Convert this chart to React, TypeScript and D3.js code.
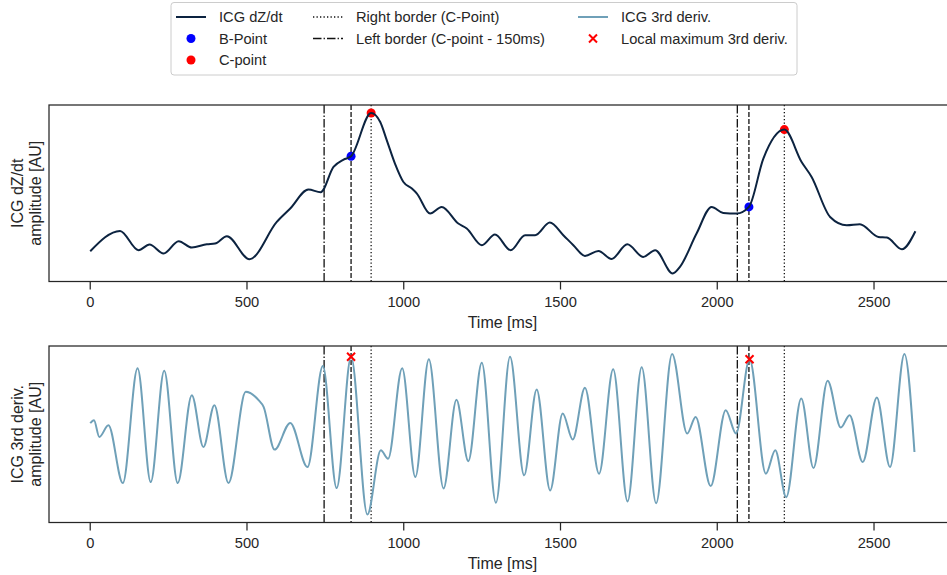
import React from "react";
import * as d3 from "d3";

// ---------- data ----------
const icgTimes = [0, 95, 154, 189, 234, 282, 324, 372, 398, 436, 508, 595, 638, 696, 735, 776, 808, 832, 896, 925, 946, 972, 999, 1026, 1042, 1084, 1121, 1174, 1201, 1249, 1291, 1341, 1387, 1419, 1466, 1509, 1541, 1578, 1621, 1663, 1713, 1764, 1802, 1858, 1881, 1934, 1982, 2019, 2062, 2101, 2147, 2214, 2269, 2301, 2360, 2413, 2455, 2514, 2541, 2589, 2632];
const icgValues = [0.223, 0.426, 0.233, 0.29, 0.2, 0.323, 0.26, 0.293, 0.3, 0.373, 0.143, 0.516, 0.65, 0.84, 0.813, 1.066, 1.14, 1.173, 1.606, 1.516, 1.333, 1.1, 0.916, 0.85, 0.8, 0.6, 0.666, 0.5, 0.45, 0.283, 0.39, 0.233, 0.383, 0.383, 0.51, 0.383, 0.283, 0.176, 0.226, 0.146, 0.293, 0.166, 0.233, 0.0, 0.066, 0.4, 0.666, 0.606, 0.6, 0.666, 1.15, 1.44, 1.116, 0.966, 0.566, 0.483, 0.493, 0.366, 0.36, 0.243, 0.423];

const derivTimes = [0, 12, 29, 58, 104, 151, 193, 236, 279, 324, 361, 396, 441, 496, 537, 553, 588, 638, 693, 742, 786, 832, 884, 927, 950, 995, 1037, 1080, 1127, 1168, 1206, 1249, 1294, 1339, 1384, 1424, 1467, 1507, 1539, 1578, 1623, 1668, 1714, 1759, 1805, 1856, 1904, 1931, 1979, 2027, 2060, 2103, 2155, 2185, 2220, 2268, 2307, 2352, 2394, 2422, 2464, 2509, 2551, 2597, 2629];
const derivValues = [0.275, 0.35, -0.068, 0.225, -1.218, 1.643, -1.193, 1.583, -1.218, 0.975, -0.318, 0.725, -1.218, 1.058, 0.85, 0.683, -0.383, 0.283, -0.818, 1.7, -1.343, 1.933, -2.0, -0.4, -0.613, 1.643, -1.068, 1.868, -1.35, 0.858, -0.67, 1.783, -1.708, 1.933, -1.025, 1.118, -1.4, 0.518, -0.133, 1.158, -0.983, 1.618, -1.675, 1.668, -1.718, 2.0, 0.018, 0.433, -1.293, 0.6, 0.018, 1.868, -0.983, -0.4, -1.568, 0.893, -0.843, 1.333, 0.168, 0.475, -0.693, 0.918, -0.818, 2.0, -0.443];

const bPointTimes = [832, 2101];
const bPointValues = [1.173, 0.666];
const cPointTimes = [896, 2214];
const cPointValues = [1.606, 1.44];
const maxDerivTimes = [832, 2103];
const maxDerivValues = [1.933, 1.868];
const leftBorderTimes = [746, 2064];
const rightBorderTimes = [896, 2214];
const xTicks = [0, 500, 1000, 1500, 2000, 2500];

// ---------- style ----------
const FONT = "'Liberation Sans', Arial, sans-serif";
const TEXT = "#262626";
const ICG_COLOR = "#0c2340";
const DERIV_COLOR = "#6fa0b8";
const W = 947;
const H = 575;
const X0 = 49;
const X1 = 956;

const x = d3.scaleLinear().domain([-131.5, 2761.5]).range([X0, X1]);

function padded(vals: number[]): [number, number] {
  const [lo, hi] = d3.extent(vals) as [number, number];
  const p = (hi - lo) * 0.05;
  return [lo - p, hi + p];
}

const DASHDOT = "8.5,2.1,1.3,2.1";
const DASHED = "4.9,2.1";
const DOTTED = "1.3,2.2";

type PanelProps = {
  top: number;
  bottom: number;
  times: number[];
  values: number[];
  color: string;
  labelLines: string[];
  children?: (y: d3.ScaleLinear<number, number>) => React.ReactNode;
  drawAfter?: (y: d3.ScaleLinear<number, number>) => React.ReactNode;
};

function Panel({ top, bottom, times, values, color, labelLines, children, drawAfter }: PanelProps) {
  const y = d3.scaleLinear().domain(padded(values)).range([bottom, top]);
  const line = d3
    .line<number>()
    .x((_, i) => x(times[i]))
    .y((v) => y(v))
    .curve(d3.curveMonotoneX);
  const cy = (top + bottom) / 2;
  return (
    <g>
      {/* vertical lines */}
      {leftBorderTimes.map((t, i) => (
        <line key={"l" + i} x1={x(t)} x2={x(t)} y1={top} y2={bottom} stroke="#111" strokeWidth={1.3} strokeDasharray={DASHDOT} />
      ))}
      {bPointTimes.map((t, i) => (
        <line key={"b" + i} x1={x(t)} x2={x(t)} y1={top} y2={bottom} stroke="#111" strokeWidth={1.3} strokeDasharray={DASHED} />
      ))}
      {rightBorderTimes.map((t, i) => (
        <line key={"r" + i} x1={x(t)} x2={x(t)} y1={top} y2={bottom} stroke="#111" strokeWidth={1.3} strokeDasharray={DOTTED} />
      ))}
      {children && children(y)}
      <path d={line(values) || ""} fill="none" stroke={color} strokeWidth={2} strokeLinejoin="round" />
      {drawAfter && drawAfter(y)}
      {/* frame */}
      <rect x={X0} y={top} width={X1 - X0} height={bottom - top} fill="none" stroke={TEXT} strokeWidth={1.25} />
      {xTicks.map((t) => (
        <g key={t} transform={`translate(${x(t)},${bottom})`}>
          <line y1={0} y2={8} stroke={TEXT} strokeWidth={1.25} />
          <text y={20} dy="0" textAnchor="middle" fontFamily={FONT} fontSize={14.67} fill={TEXT} dominantBaseline="central">
            {t}
          </text>
        </g>
      ))}
      <text x={(X0 + X1) / 2} y={bottom + 41} textAnchor="middle" dominantBaseline="central" fontFamily={FONT} fontSize={16} fill={TEXT}>
        Time [ms]
      </text>
      <g transform={`translate(0,${cy}) rotate(-90)`}>
        {labelLines.map((s, i) => (
          <text key={i} x={0} y={17 + i * 18.5} textAnchor="middle" dominantBaseline="central" fontFamily={FONT} fontSize={16} fill={TEXT}>
            {s}
          </text>
        ))}
      </g>
    </g>
  );
}

function Legend() {
  const fs = 14.67;
  const rows = [17, 38.5, 60];
  const cols = [176, 313, 578];
  const hl = 30;
  const tx = 13;
  const label = (c: number, r: number, s: string) => (
    <text x={cols[c] + hl + tx} y={rows[r]} dominantBaseline="central" fontFamily={FONT} fontSize={fs} fill={TEXT}>
      {s}
    </text>
  );
  const mid = (c: number) => cols[c] + hl / 2;
  return (
    <g>
      <rect x={171} y={2.5} width={626} height={72.5} rx={3} fill="white" fillOpacity={0.8} stroke="#cccccc" strokeWidth={1} />
      <line x1={cols[0]} x2={cols[0] + hl} y1={rows[0]} y2={rows[0]} stroke={ICG_COLOR} strokeWidth={2} />
      {label(0, 0, "ICG dZ/dt")}
      <circle cx={mid(0)} cy={rows[1]} r={4.5} fill="#0000ff" />
      {label(0, 1, "B-Point")}
      <circle cx={mid(0)} cy={rows[2]} r={4.5} fill="#ff0000" />
      {label(0, 2, "C-point")}
      <line x1={cols[1]} x2={cols[1] + hl} y1={rows[0]} y2={rows[0]} stroke="#111" strokeWidth={1.3} strokeDasharray={DOTTED} />
      {label(1, 0, "Right border (C-Point)")}
      <line x1={cols[1]} x2={cols[1] + hl} y1={rows[1]} y2={rows[1]} stroke="#111" strokeWidth={1.3} strokeDasharray={DASHDOT} />
      {label(1, 1, "Left border (C-point - 150ms)")}
      <line x1={cols[2]} x2={cols[2] + hl} y1={rows[0]} y2={rows[0]} stroke={DERIV_COLOR} strokeWidth={2} />
      {label(2, 0, "ICG 3rd deriv.")}
      <g transform={`translate(${mid(2)},${rows[1]})`}>
        <path d="M-4,-4L4,4M-4,4L4,-4" stroke="#ff0000" strokeWidth={2} />
      </g>
      {label(2, 1, "Local maximum 3rd deriv.")}
    </g>
  );
}

export default function App() {
  return (
    <svg width={W} height={H} style={{ position: "absolute", left: 0, top: 0, background: "white", overflow: "hidden" }}>
      <rect x={0} y={0} width={W} height={H} fill="white" />
      <Panel
        top={105}
        bottom={281.5}
        times={icgTimes}
        values={icgValues}
        color={ICG_COLOR}
        labelLines={["ICG dZ/dt", "amplitude [AU]"]}
      >
        {(y) => (
          <g>
            {bPointTimes.map((t, i) => (
              <circle key={"bp" + i} cx={x(t)} cy={y(bPointValues[i])} r={4.5} fill="#0000ff" />
            ))}
            {cPointTimes.map((t, i) => (
              <circle key={"cp" + i} cx={x(t)} cy={y(cPointValues[i])} r={4.5} fill="#ff0000" />
            ))}
          </g>
        )}
      </Panel>
      <Panel
        top={346}
        bottom={522.5}
        times={derivTimes}
        values={derivValues}
        color={DERIV_COLOR}
        labelLines={["ICG 3rd deriv.", "amplitude [AU]"]}
        drawAfter={(y) => (
          <g>
            {maxDerivTimes.map((t, i) => (
              <path
                key={"mx" + i}
                transform={`translate(${x(t)},${y(maxDerivValues[i])})`}
                d="M-4,-4L4,4M-4,4L4,-4"
                stroke="#ff0000"
                strokeWidth={2}
              />
            ))}
          </g>
        )}
      />
      <Legend />
    </svg>
  );
}
